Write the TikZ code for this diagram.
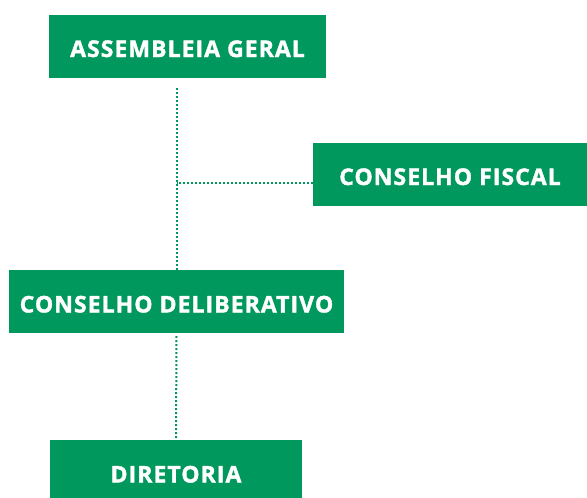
\documentclass[tikz,border=0pt]{standalone}
\usepackage{fontspec}
\setmainfont{Open Sans}[LetterSpace=4.5,BoldFeatures={FakeBold=1.6}]
\usetikzlibrary{positioning}
\definecolor{boxgreen}{RGB}{0,152,93}
\tikzset{orgbox/.style={fill=boxgreen,text=white,font=\bfseries\fontsize{23}{26}\selectfont,
    minimum height=63pt,inner sep=0pt,text height=22pt,text depth=0pt}}
\tikzset{link/.style={draw=boxgreen,line width=2pt,dash pattern=on 2pt off 2pt}}

\begin{document}
\begin{tikzpicture}[x=1pt,y=-1pt]
  \useasboundingbox (0,0) rectangle (587,498);
  \node[orgbox,minimum width=277pt] (assembleia) at (187.5,46) {ASSEMBLEIA GERAL};
  \node[orgbox,minimum width=274pt] (fiscal) at (450,174) {CONSELHO FISCAL};
  \node[orgbox,minimum width=335pt] (deliberativo) at (176.5,301.5) {CONSELHO DELIBERATIVO};
  \node[orgbox,minimum width=252pt] (diretoria) at (176,471.5) {DIRETORIA};

  \draw[link] ([yshift=-10pt]assembleia.south -| deliberativo.north) -- (deliberativo.north);
  \draw[link] ([yshift=-9pt]fiscal.west) -- ([yshift=-9pt]fiscal.west -| deliberativo.north);
  \draw[link] ([yshift=-3pt]deliberativo.south) -- (diretoria.north);
\end{tikzpicture}
\end{document}
